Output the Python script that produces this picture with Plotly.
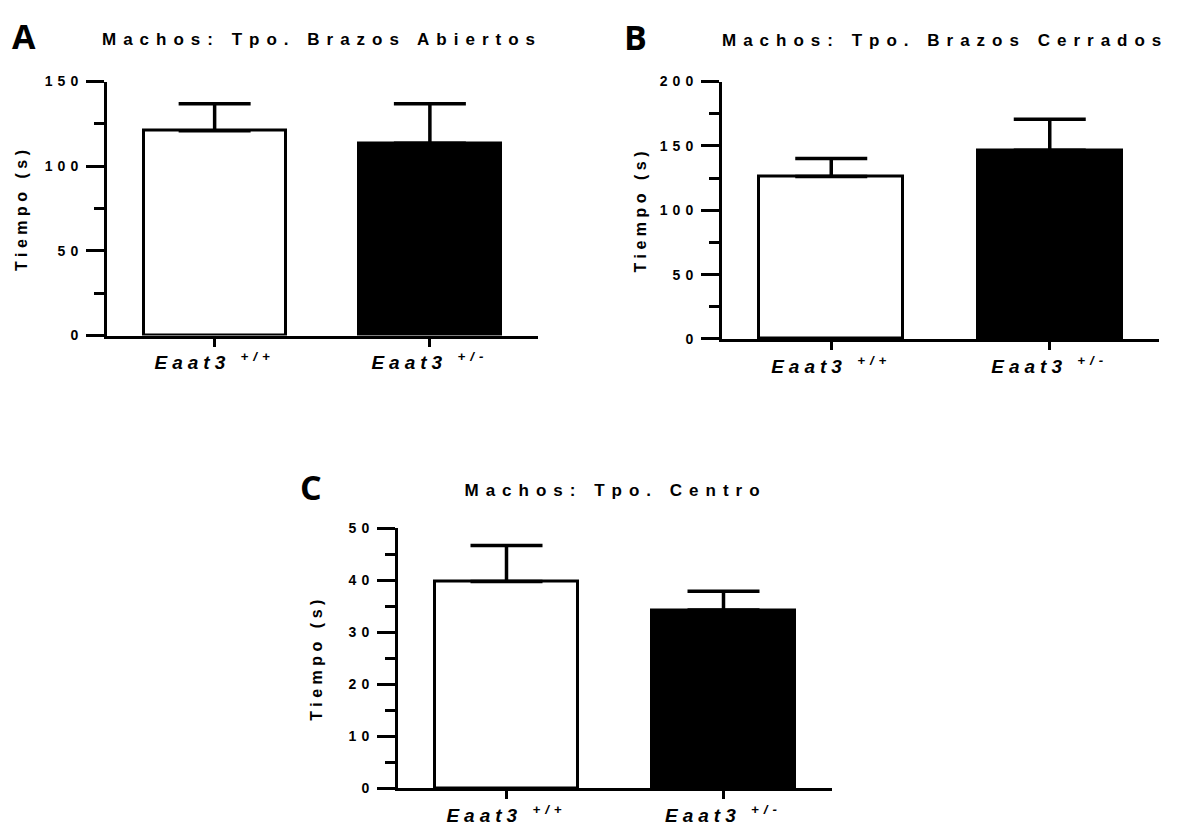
import plotly.graph_objects as go

W, H = 1178, 829

# ---- data ----
groups = ["Eaat3 +/+", "Eaat3 +/-"]
group_labels = ["<i>Eaat3 <sup>+/+</sup></i>", "<i>Eaat3 <sup>+/-</sup></i>"]
bar_colors = ["white", "black"]

titles = ["Machos: Tpo. Brazos Abiertos", "Machos: Tpo. Brazos Cerrados", "Machos: Tpo. Centro"]
panel_letters = ["A", "B", "C"]
y_title = "Tiempo (s)"

abiertos_mean = [121.0, 113.5]
abiertos_sem = [15.9, 23.4]
cerrados_mean = [126.3, 146.6]
cerrados_sem = [14.0, 24.1]
centro_mean = [39.8, 34.3]
centro_sem = [6.9, 3.6]

y_ranges = [[0, 150], [0, 200], [0, 50]]
y_dticks = [50, 50, 10]
y_minor = [25, 25, 5]

means = [abiertos_mean, cerrados_mean, centro_mean]
sems = [abiertos_sem, cerrados_sem, centro_sem]

# ---- layout geometry (pixels) ----
panels_px = [
    ((107, 537.5), (75, 334)),
    ((722, 1159), (75, 337.5)),
    ((398, 832), (530.7, 795.5)),
]
title_px = [(322, 32), (945, 33), (615, 492)]
ytitle_px = [(22, 204.5), (640, 206), (316, 663)]
letter_px = [(24, 29), (635, 30), (311, 488)]

FONT = "Liberation Sans"

fig = go.Figure()
layout = dict(
    width=W, height=H, autosize=False,
    margin=dict(l=0, r=0, t=0, b=0),
    paper_bgcolor="white", plot_bgcolor="white",
    showlegend=False, bargap=0,
    annotations=[],
)

for i in range(3):
    sfx = "" if i == 0 else str(i + 1)
    (xl, xr), (yt, yb) = panels_px[i]
    fig.add_trace(go.Bar(
        x=[0, 1], y=means[i],
        width=0.66,
        marker=dict(color=bar_colors, line=dict(color="black", width=3)),
        error_y=dict(type="data", array=sems[i], arrayminus=[0, 0], symmetric=False,
                     color="black", thickness=3.5, width=36),
        xaxis="x" + sfx, yaxis="y" + sfx,
        hoverinfo="skip",
    ))
    layout["xaxis" + sfx] = dict(
        domain=[xl / W, xr / W], anchor="y" + sfx,
        range=[-0.5, 1.5], tickvals=[0, 1], ticktext=group_labels,
        showline=True, linecolor="black", linewidth=3,
        ticks="outside", ticklen=8, tickwidth=3, tickcolor="black",
        showgrid=False, zeroline=False, fixedrange=True,
        tickfont=dict(family=FONT, size=19, color="black", weight="bold"),
    )
    layout["yaxis" + sfx] = dict(
        domain=[1 - yb / H, 1 - yt / H], anchor="x" + sfx,
        range=y_ranges[i], dtick=y_dticks[i], tick0=0,
        showline=True, linecolor="black", linewidth=3,
        ticks="outside", ticklen=18, tickwidth=3, tickcolor="black",
        minor=dict(dtick=y_minor[i], tick0=0, ticks="outside", ticklen=10,
                   tickwidth=3, tickcolor="black", showgrid=False),
        showgrid=False, zeroline=False, fixedrange=True,
        tickfont=dict(family=FONT, size=14, color="black", weight="bold"),
    )

# titles (0-2)
for i in range(3):
    x, y = title_px[i]
    layout["annotations"].append(dict(
        text=titles[i], x=x / W, y=1 - y / H, xref="paper", yref="paper",
        xanchor="center", yanchor="middle", showarrow=False,
        font=dict(family=FONT, size=17, color="black", weight="bold"),
    ))
# y titles (3-5)
for i in range(3):
    x, y = ytitle_px[i]
    layout["annotations"].append(dict(
        text=y_title, x=x / W, y=1 - y / H, xref="paper", yref="paper",
        xanchor="center", yanchor="middle", showarrow=False, textangle=-90,
        font=dict(family=FONT, size=16, color="black", weight="bold"),
    ))
# panel letters (6-8)
for i in range(3):
    x, y = letter_px[i]
    layout["annotations"].append(dict(
        text=panel_letters[i], x=x / W, y=1 - y / H, xref="paper", yref="paper",
        xanchor="center", yanchor="middle", showarrow=False,
        font=dict(family="Open Sans", size=34, color="black", weight="bold"),
    ))

fig.update_layout(**layout)

post = """
document.documentElement.style.margin = '0';
document.body.style.margin = '0';
document.body.style.padding = '0';
document.body.style.overflow = 'hidden';
var st = document.createElement('style');
st.innerHTML = `
html, body { margin: 0 !important; padding: 0 !important; overflow: hidden; }
g[class$="tick"] text { letter-spacing: 5px; }
.annotation[data-index="0"] text, .annotation[data-index="1"] text, .annotation[data-index="2"] text { letter-spacing: 7px; }
.annotation[data-index="3"] text, .annotation[data-index="4"] text, .annotation[data-index="5"] text { letter-spacing: 4.5px; }
`;
document.head.appendChild(st);
"""

fig.write_html("out.html", config={"displayModeBar": False, "responsive": False}, post_script=post)
